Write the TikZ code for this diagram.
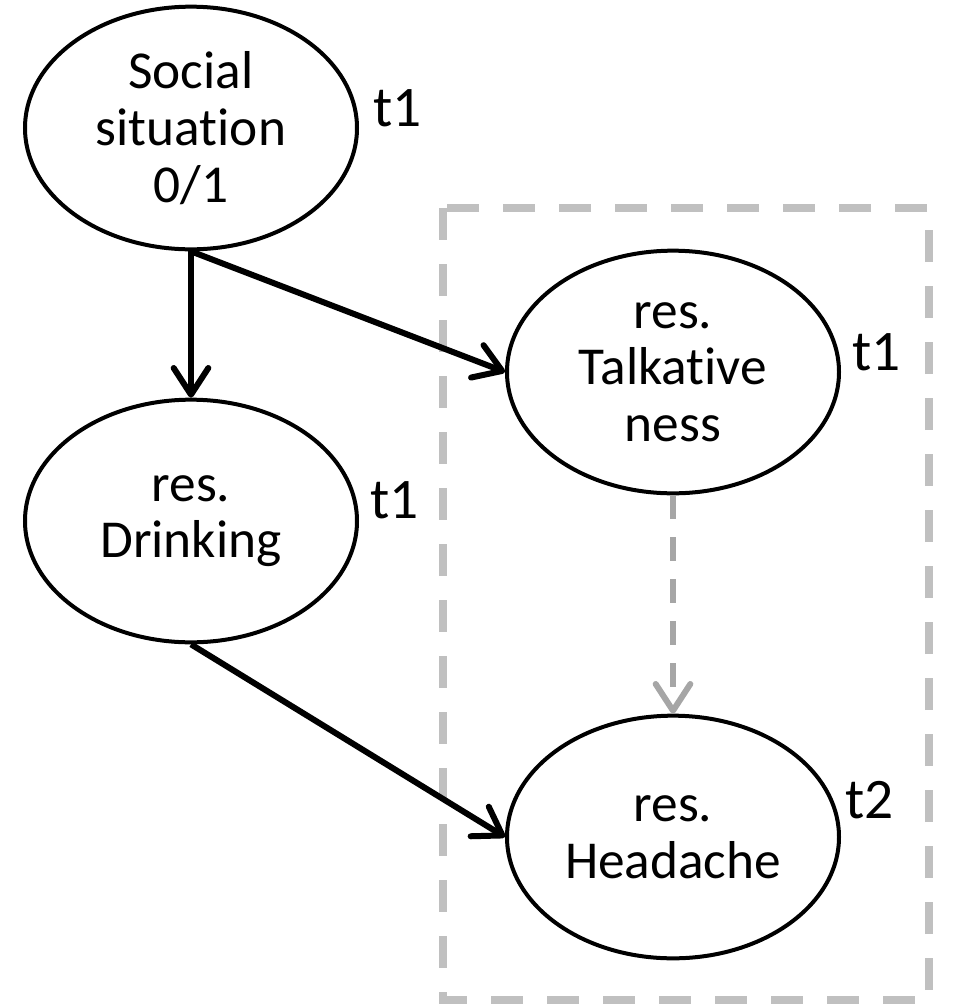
\documentclass[tikz,border=0pt]{standalone}
\usepackage{fontspec}
\setmainfont{Carlito}[Ligatures={NoCommon},RawFeature={-liga;-clig}]
\usetikzlibrary{arrows.meta,shapes.geometric}
\definecolor{boxgray}{RGB}{192,192,192}
\definecolor{arrgray}{RGB}{166,166,166}
\begin{document}
\begin{tikzpicture}[x=0.75pt,y=-0.75pt,
  var/.style={ellipse, draw=black, line width=3pt, minimum width=249pt, minimum height=182pt,
              inner sep=0pt, align=center, font=\fontsize{40}{42.5}\selectfont},
  lbl/.style={font=\fontsize{43}{46}\selectfont, inner sep=0pt, anchor=base west},
  arr/.style={draw=black, line width=4.5pt, -{Straight Barb[length=20pt,width=26pt,round]}},
  garr/.style={draw=arrgray, line width=4.5pt, dash pattern=on 18pt off 13.5pt,
               -{Straight Barb[length=20pt,width=26pt,round]}},
  boxline/.style={draw=boxgray, line width=6pt, dash pattern=on 24pt off 18pt}
]
\useasboundingbox (0,0) rectangle (954,1004);

\draw[boxline] (443,208) rectangle (929,1000);

\node[var] (soc) at (191,128) {Social\\situation\\0/1};
\node[var] (drk) at (191,521) {res.\\Drinking};
\node[var] (tlk) at (673,372) {res.\\Talkative\\ness};
\node[var] (hdc) at (673,837) {res.\\Headache};

\node[lbl] (t1a) at (373,126) {t1};
\node[lbl] (t1b) at (370,518) {t1};
\node[lbl] (t1c) at (852,370) {t1};
\node[lbl] (t2d) at (845,818) {t2};

\draw[arr] (soc.south) -- (drk.north);
\draw[arr] (soc.south) -- (tlk.west);
\draw[arr] (drk.south) -- (hdc.west);
\draw[garr] (tlk.south) -- (hdc.north);
\end{tikzpicture}
\end{document}
